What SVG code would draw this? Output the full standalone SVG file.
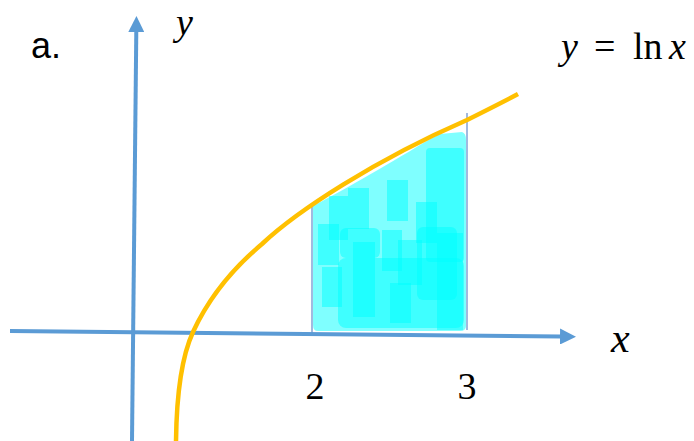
<svg xmlns="http://www.w3.org/2000/svg" width="694" height="441" viewBox="0 0 694 441">
<style>
.axis{stroke:#5B9BD5;stroke-width:4;fill:none}
.guide{stroke:#8AA8D8;stroke-width:1.6;fill:none}
.curve{stroke:#FFC000;stroke-width:4.5;fill:none}
.paint{fill:#00FFFF;fill-opacity:0.5}
.math{font-family:"Liberation Serif","DejaVu Serif",serif;font-style:italic;fill:#000}
.num{font-family:"Liberation Serif","DejaVu Serif",serif;fill:#000}
.lbl{font-family:"Liberation Sans","Noto Sans",sans-serif;fill:#000}
</style>
<defs>
<marker id="arr" viewBox="0 0 16 16" refX="1" refY="8" markerWidth="16" markerHeight="16" markerUnits="userSpaceOnUse" orient="auto">
<path d="M0,0 L16,8 L0,16 Z" fill="#5B9BD5"/>
</marker>
</defs>
<g id="shaded-area">
<path class="paint" d="M313,206 C340,192 382,168 425,142 L440,134 L462,132 Q466,133 466,140 L466,326 Q466,331 460,331 L318,331 Q313,331 313,325 Z"/>
<rect class="paint" x="426" y="148" width="38" height="114" rx="4"/>
<rect class="paint" x="387" y="180" width="21" height="41"/>
<rect class="paint" x="348" y="188" width="21" height="41"/>
<rect class="paint" x="329" y="196" width="19" height="44"/>
<rect class="paint" x="318" y="224" width="21" height="41"/>
<rect class="paint" x="322" y="267" width="20" height="40"/>
<rect class="paint" x="382" y="230" width="20" height="41"/>
<rect class="paint" x="416" y="202" width="21" height="41"/>
<rect class="paint" x="338" y="258" width="126" height="70" rx="8"/>
<rect class="paint" x="353" y="242" width="22" height="75"/>
<rect class="paint" x="390" y="283" width="21" height="40"/>
<rect class="paint" x="437" y="233" width="26" height="97"/>
<rect class="paint" x="417" y="227" width="40" height="73" rx="6"/>
<rect class="paint" x="398" y="240" width="24" height="45"/>
<rect class="paint" x="340" y="228" width="40" height="30" rx="6"/>
</g>
<g id="guides">
<line class="guide" x1="312" y1="203" x2="312" y2="336"/>
<line class="guide" x1="467" y1="113" x2="467" y2="330"/>
</g>
<g id="connectors">
<line id="x-axis" class="axis" x1="10" y1="331" x2="561" y2="336.5" marker-end="url(#arr)"/>
<line id="y-axis" class="axis" x1="132" y1="441" x2="136.3" y2="31" marker-end="url(#arr)"/>
</g>
<g id="curve">
<path class="curve" d="M176,441 C176.5,400 181,358 193,332 C205,306 225,275 262,244 C297,211 375,160 467,120 C485,111 503,102 518,94"/>
</g>
<g id="labels">
<text class="lbl" x="31" y="58" font-size="36">a.</text>
<text class="math" x="176" y="35" font-size="38">y</text>
<text class="math" x="611" y="352" font-size="42">x</text>
<text class="num" x="315" y="399" font-size="38" text-anchor="middle">2</text>
<text class="num" x="467" y="399" font-size="38" text-anchor="middle">3</text>
<text class="math" font-size="38" y="59"><tspan x="561">y</tspan><tspan x="594" font-style="normal">=</tspan><tspan x="633" font-style="normal">ln</tspan><tspan x="669">x</tspan></text>
</g>
</svg>
